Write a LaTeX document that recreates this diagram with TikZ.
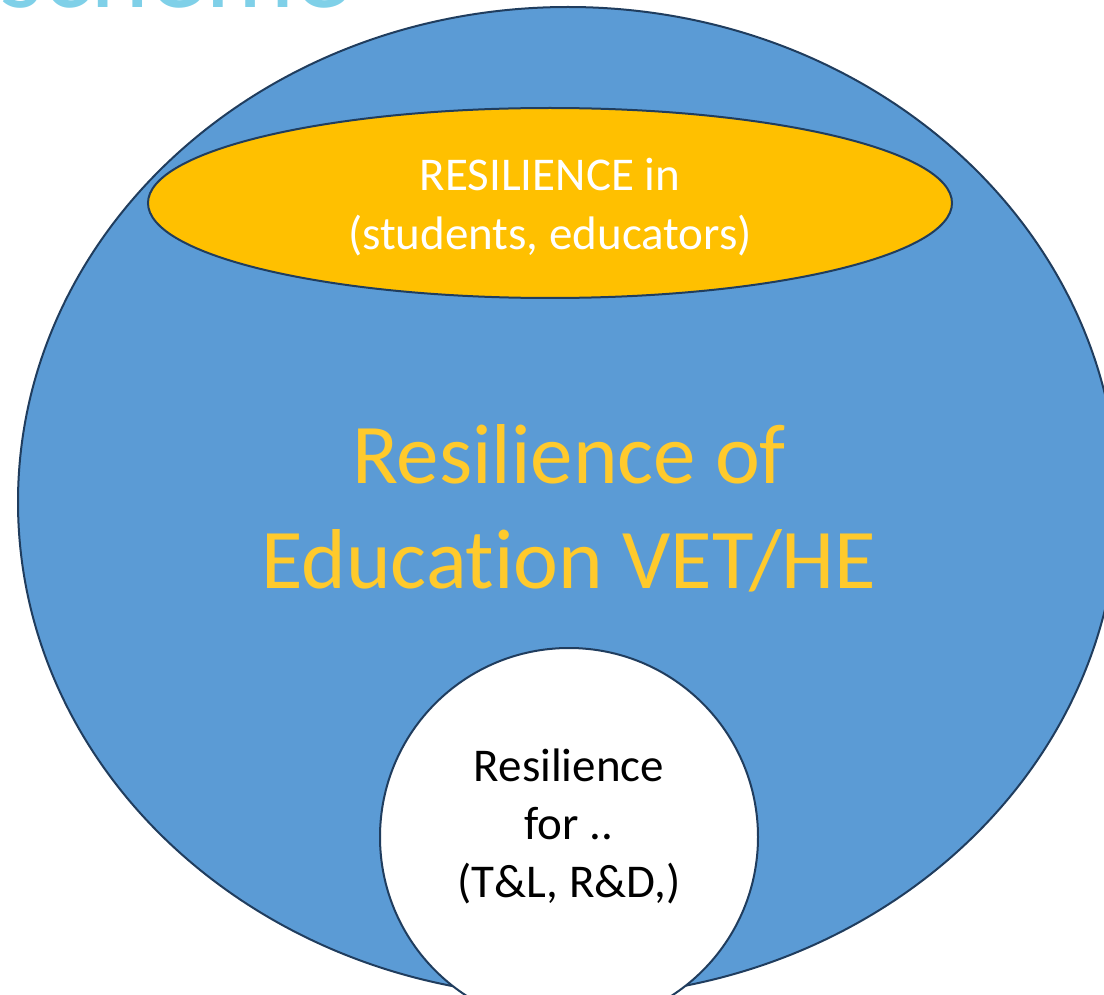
\documentclass[tikz,border=0pt]{standalone}
\usepackage{fontspec}
\setmainfont{Carlito}[Ligatures = NoCommon]
\usetikzlibrary{shapes.geometric}
\definecolor{outerblue}{HTML}{5B9BD5}
\definecolor{rimnavy}{HTML}{203D5E}
\definecolor{gold}{HTML}{FFC000}
\definecolor{goldtext}{HTML}{FFCA2C}
\definecolor{titlecyan}{HTML}{7FD0E8}

\begin{document}
\begin{tikzpicture}[x = 1pt, y = -1pt,
        rim/.style = {draw = rimnavy, line width = 2pt},
        oval/.style = {ellipse, inner sep = 0pt, rim},
        words/.style = {align = center, inner sep = 0pt}]
    \useasboundingbox (0, 0) rectangle (1104, 995);
    \clip (0, 0) rectangle (1104, 995);

    \node[anchor = base west, text = titlecyan, font = \fontsize{112}{130}\selectfont] (title) at (-4, 8) {scheme};

    \node[oval, fill = outerblue, minimum width = 1100, minimum height = 990] (outer) at (568, 502) {};
    \node[oval, fill = gold, minimum width = 804, minimum height = 190] (upper) at (550, 203) {};
    \node[oval, fill = white, minimum width = 378, minimum height = 378] (lower) at (569, 837) {};

    \node[words, text = white, font = \fontsize{47}{59}\selectfont] (uppertext) at (550, 207)
        {RESILIENCE in\\(students, educators)};
    \node[words, text = goldtext, font = \fontsize{85}{105}\selectfont] (outertext) at (569, 508)
        {Resilience of\\Education VET/HE};
    \node[words, text = black, font = \fontsize{47}{58}\selectfont] (lowertext) at (569, 826)
        {Resilience\\for ..\\(T\&L, R\&D,)};
\end{tikzpicture}
\end{document}
